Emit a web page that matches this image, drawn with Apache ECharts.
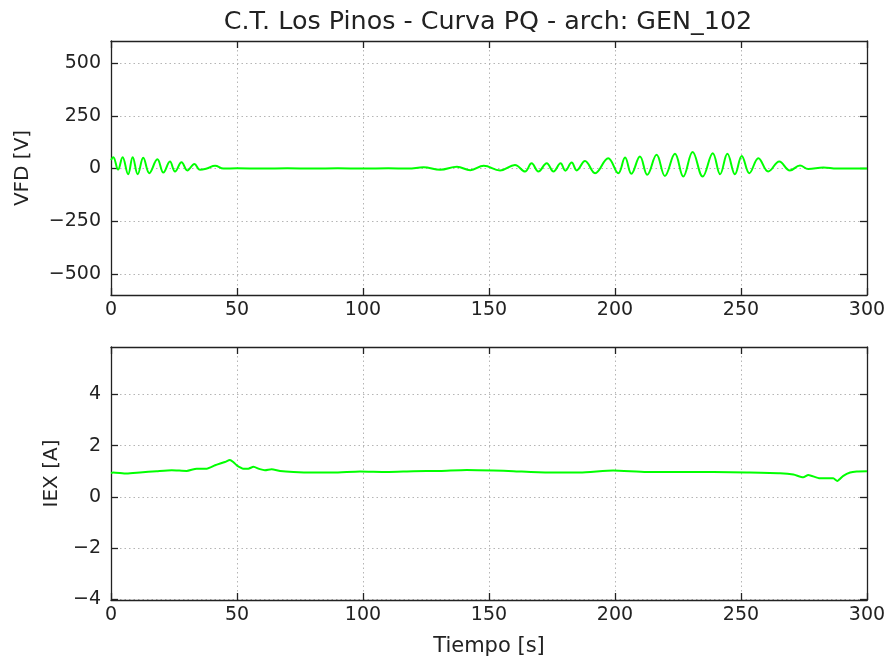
<!DOCTYPE html>
<html>
<head>
<meta charset="utf-8">
<script src="https://cdn.jsdelivr.net/npm/echarts@6/dist/echarts.min.js"></script>
<style>
  html, body { margin: 0; padding: 0; background: #fff; }
  #chart { width: 890px; height: 664px; }
</style>
</head>
<body>
<div id="chart"></div>
<script>
// datos
var vfdTime = [0, 0.9, 2.8, 4.6, 6.8, 8.6, 10.6, 12.8, 15.2, 18.4, 20.8, 23.4, 25.4, 28.0, 30.3, 33.1, 35.3, 38, 41.3, 44.6,
  50, 60, 70, 80, 90, 100, 110, 118, 124, 130.6, 137.3, 142.6, 147.9, 154.4, 160.3, 164.3, 166.9, 169.6, 172.9, 175.6,
  178.4, 180.3, 182.8, 184.8, 188.1, 192.1, 197.3, 201.3, 204, 206.5, 209.9, 212.8, 216.5, 219.8, 223.8, 227.1, 230.8,
  234.8, 238.8, 241.7, 244.6, 247.6, 250.3, 253.3, 256.9, 260.8, 265.2, 269.4, 273.4, 276.7, 282.7, 288, 300];
var vfdVal = [40, 54, -5, 54, -27, 54, -27, 51, -22, 44, -19, 33, -14, 30, -9, 22, -6, 0, 13, 0,
  1, 0, 1, 0, 1, 0, 1, 0, 6, -6, 8, -8, 13, -9, 17, -14, 25, -14, 25, -14,
  25, -10, 28, -9, 36, -22, 49, -22, 52, -25, 57, -30, 65, -35, 70, -38, 78,
  -38, 73, -27, 70, -27, 60, -22, 49, -14, 33, -9, 14, -2, 5, 0, 0];

var iexTime = [0, 0.9, 6.2, 11.5, 18.1, 24.1, 30, 34, 38, 41.3, 45.2, 47.2, 48.5, 49.9, 52.5, 54.5, 56.5, 59.1, 61.1, 63.7,
  67.1, 72.4, 80.3, 88.2, 98.8, 109.4, 120, 130.6, 141.1, 151.7, 159.7, 172.9, 186.1, 199.3, 212.6, 225.8, 239, 252.3,
  265.5, 270.8, 274.7, 276.7, 281.3, 286.6, 288.2, 290.6, 293.3, 295.9, 300];
var iexVal = [0.93, 0.95, 0.91, 0.95, 1.0, 1.04, 1.01, 1.1, 1.1, 1.23, 1.36, 1.44, 1.36, 1.23, 1.1, 1.1, 1.17, 1.08, 1.04, 1.08,
  1.01, 0.97, 0.95, 0.95, 0.99, 0.97, 1.0, 1.01, 1.05, 1.03, 1.0, 0.95, 0.95, 1.03, 0.97, 0.97, 0.97, 0.95,
  0.92, 0.87, 0.76, 0.85, 0.72, 0.72, 0.62, 0.82, 0.95, 0.99, 1.0];

var vfdTicks = [-500, -250, 0, 250, 500];
var iexTicks = [-4, -2, 0, 2, 4];
var timeTicks = [0, 50, 100, 150, 200, 250, 300];

function pares(t, v) {
  return t.map(function (x, i) { return [x, v[i]]; });
}

var fuente = 'DejaVu Sans';
var negro = '#222';

function ejeX(grid, pos, conTexto) {
  return {
    type: 'value', gridIndex: grid, position: pos,
    min: 0, max: 300,
    axisLine: { show: true, onZero: false, lineStyle: { color: negro, width: 1.3 } },
    axisTick: { show: true, inside: true, length: 7, customValues: timeTicks, lineStyle: { color: negro, width: 1.3 } },
    axisLabel: { show: conTexto, customValues: timeTicks, color: negro, fontFamily: fuente, fontSize: 19, margin: 6 },
    splitLine: { show: conTexto, lineStyle: { color: '#b5b5b5', type: [1.5, 3] } }
  };
}

function ejeY(grid, pos, conTexto, min, max, ticks, nombre, gap) {
  return {
    type: 'value', gridIndex: grid, position: pos,
    min: min, max: max,
    name: conTexto ? nombre : '', nameLocation: 'middle', nameGap: gap,
    nameTextStyle: { color: negro, fontFamily: fuente, fontSize: 20 },
    axisLine: { show: true, onZero: false, lineStyle: { color: negro, width: 1.3 } },
    axisTick: { show: true, inside: true, length: 7, customValues: ticks, lineStyle: { color: negro, width: 1.3 } },
    axisLabel: {
      show: conTexto, customValues: ticks, color: negro, fontFamily: fuente, fontSize: 19, margin: 10,
      formatter: function (v) { return String(v).replace('-', '\u2212'); }
    },
    splitLine: { show: conTexto, lineStyle: { color: '#b5b5b5', type: [1.5, 3] } }
  };
}

var chart = echarts.init(document.getElementById('chart'));

var option = {
  backgroundColor: '#fff',
  animation: false,
  title: {
    text: 'C.T. Los Pinos - Curva PQ - arch: GEN_102',
    left: 483, top: 5, textAlign: 'center',
    textStyle: { color: negro, fontFamily: fuente, fontSize: 25.4, fontWeight: 'normal' }
  },
  grid: [
    { left: 111, top: 41, width: 756, height: 254 },
    { left: 111, top: 347, width: 756, height: 253 }
  ],
  xAxis: [
    ejeX(0, 'bottom', true),
    ejeX(1, 'bottom', true),
    ejeX(0, 'top', false),
    ejeX(1, 'top', false)
  ],
  yAxis: [
    ejeY(0, 'left', true, -600, 605, vfdTicks, 'VFD [V]', 78),
    ejeY(1, 'left', true, -4.03, 5.85, iexTicks, 'IEX [A]', 48),
    ejeY(0, 'right', false, -600, 605, vfdTicks, '', 0),
    ejeY(1, 'right', false, -4.03, 5.85, iexTicks, '', 0)
  ],
  graphic: [{
    type: 'text', x: 489, y: 636,
    style: { text: 'Tiempo [s]', fill: negro, font: '21px "DejaVu Sans"', textAlign: 'center', textVerticalAlign: 'top' }
  }],
  series: [
    {
      name: 'VFD', type: 'line', xAxisIndex: 0, yAxisIndex: 0,
      data: pares(vfdTime, vfdVal), showSymbol: false, smooth: 0.4,
      lineStyle: { color: '#00ff00', width: 2 }, z: 5
    },
    {
      name: 'IEX', type: 'line', xAxisIndex: 1, yAxisIndex: 1,
      data: pares(iexTime, iexVal), showSymbol: false, smooth: 0.2,
      lineStyle: { color: '#00ff00', width: 2 }, z: 5
    }
  ]
};

chart.setOption(option);
</script>
</body>
</html>
